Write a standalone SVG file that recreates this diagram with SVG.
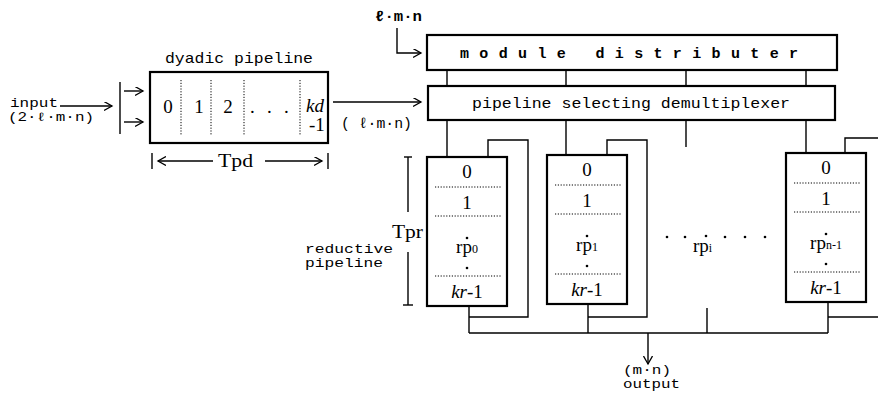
<svg xmlns="http://www.w3.org/2000/svg" width="878" height="394" viewBox="0 0 878 394">
<defs>
<style>
.ln{fill:none;stroke:#000;stroke-width:1.4}
.box{fill:#fff;stroke:#000;stroke-width:2.2}
.dot{fill:none;stroke:#000;stroke-width:1;stroke-dasharray:1.2 1.6}
.mono{font-family:"Liberation Mono","DejaVu Sans Mono",monospace;font-size:15px;fill:#000}
.sm{font-size:12px}
.ser{font-family:"Liberation Serif","DejaVu Serif",serif;font-size:19px;fill:#000}
.sub{font-size:12px}
.mid{text-anchor:middle}
</style>
<marker id="ah" markerUnits="userSpaceOnUse" markerWidth="10" markerHeight="10" refX="8" refY="4.5" orient="auto">
<path d="M0,0 L8,4.5 L0,9" fill="none" stroke="#000" stroke-width="1.3"/>
</marker>
<g id="rpbox">
<rect class="box" x="0" y="0" width="80" height="149"/>
<text class="ser mid" x="40" y="21">0</text>
<line class="dot" x1="8" y1="30" x2="75" y2="30"/>
<text class="ser mid" x="40" y="52">1</text>
<line class="dot" x1="8" y1="59" x2="75" y2="59"/>
<circle cx="40" cy="81" r="1.3"/>
<circle cx="40" cy="111" r="1.3"/>
<line class="dot" x1="8" y1="119" x2="75" y2="119"/>
<text class="ser mid" x="40" y="141"><tspan font-style="italic">kr</tspan>-1</text>
</g>
</defs>
<rect width="878" height="394" fill="#fff"/>

<g id="input-label">
<text class="mono sm" x="10" y="107" textLength="48" lengthAdjust="spacingAndGlyphs">input</text>
<text class="mono sm" x="8" y="121" textLength="86" lengthAdjust="spacingAndGlyphs">(2·ℓ·m·n)</text>
</g>

<g id="dyadic">
<text class="mono" x="165" y="63" font-size="16" textLength="148" lengthAdjust="spacingAndGlyphs">dyadic pipeline</text>
<rect class="box" x="150" y="72" width="178" height="71"/>
<line class="dot" x1="181" y1="80" x2="181" y2="135"/>
<line class="dot" x1="211" y1="80" x2="211" y2="135"/>
<line class="dot" x1="244" y1="80" x2="244" y2="135"/>
<line class="dot" x1="300" y1="80" x2="300" y2="135"/>
<text class="ser mid" x="168" y="113">0</text>
<text class="ser mid" x="199" y="113">1</text>
<text class="ser mid" x="228" y="113">2</text>
<text class="ser" x="250" y="113">.</text>
<text class="ser" x="267" y="113">.</text>
<text class="ser" x="284" y="113">.</text>
<text class="ser" x="306" y="112" font-size="17" font-style="italic">kd</text>
<text class="ser" x="309" y="131" font-size="14">-1</text>
</g>

<g id="tpd">
<line class="ln" x1="152" y1="153" x2="152" y2="169"/>
<line class="ln" x1="328" y1="153" x2="328" y2="169"/>
<line class="ln" x1="213" y1="161" x2="158" y2="161" marker-end="url(#ah)"/>
<line class="ln" x1="265" y1="161" x2="322" y2="161" marker-end="url(#ah)"/>
<text class="ser" x="218" y="167" font-size="16" textLength="35" lengthAdjust="spacingAndGlyphs">Tpd</text>
</g>

<g id="lmn-top">
<text class="mono" x="375" y="21" font-weight="bold" textLength="47" lengthAdjust="spacingAndGlyphs">ℓ·m·n</text>
</g>

<g id="lmn-mid">
<text class="mono" x="341" y="128" xml:space="preserve" textLength="71" lengthAdjust="spacingAndGlyphs">( ℓ·m·n)</text>
</g>

<g id="module-distributer">
<rect class="box" x="427" y="35" width="410" height="35"/>
<text class="mono" x="460" y="58" font-weight="bold" xml:space="preserve" textLength="338" lengthAdjust="spacing">m o d u l e   d i s t r i b u t e r</text>
</g>

<g id="demux">
<rect class="box" x="428" y="86" width="407" height="34"/>
<text class="mono" x="472" y="108" font-size="16" textLength="318" lengthAdjust="spacingAndGlyphs">pipeline selecting demultiplexer</text>
</g>

<g id="tpr">
<line class="ln" x1="404" y1="157" x2="412" y2="157"/>
<line class="ln" x1="408" y1="157" x2="408" y2="212"/>
<line class="ln" x1="408" y1="252" x2="408" y2="305"/>
<line class="ln" x1="403" y1="305" x2="413" y2="305"/>
<text class="ser" x="392" y="238" font-size="17" textLength="31" lengthAdjust="spacingAndGlyphs">Tpr</text>
<text class="mono sm" x="305" y="253" textLength="88" lengthAdjust="spacingAndGlyphs">reductive</text>
<text class="mono sm" x="305" y="267" textLength="78" lengthAdjust="spacingAndGlyphs">pipeline</text>
</g>

<g id="connectors">
<polyline class="ln" points="60,106 112,106" marker-end="url(#ah)"/>
<line class="ln" x1="120" y1="82" x2="120" y2="134" stroke-width="1.8"/>
<polyline class="ln" points="124,91 143,91" marker-end="url(#ah)"/>
<polyline class="ln" points="124,122 143,122" marker-end="url(#ah)"/>
<polyline class="ln" points="333,102 421,102" marker-end="url(#ah)"/>
<polyline class="ln" points="397,28 397,53 421,53" marker-end="url(#ah)"/>
<path class="ln" d="M447,70V86M566,70V86M686,70V86M806,70V86"/>
<path class="ln" d="M447,120V157M566,120V155M686,120V147M806,120V153"/>
<path class="ln" d="M488,157V140H528V317H469"/>
<path class="ln" d="M607,155V140H647V317H588"/>
<path class="ln" d="M845,153V138H878"/>
<path class="ln" d="M878,317H828"/>
<path class="ln" d="M469,306V333M588,304V333M828,302V333M707,308V333"/>
<path class="ln" d="M469,333H828"/>
<polyline class="ln" points="648,333 648,364" marker-end="url(#ah)"/>
</g>

<g id="rp0">
<use href="#rpbox" x="427" y="157"/>
<text class="ser mid" x="467" y="253">rp<tspan class="sub">0</tspan></text>
</g>
<g id="rp1">
<use href="#rpbox" x="547" y="155"/>
<text class="ser mid" x="587" y="251">rp<tspan class="sub">1</tspan></text>
</g>
<g id="rpi">
<circle cx="667" cy="237" r="1.3"/>
<circle cx="685" cy="237" r="1.3"/>
<circle cx="706" cy="236" r="1.3"/>
<text class="ser" x="693" y="252">rp<tspan class="sub">i</tspan></text>
<circle cx="725" cy="237" r="1.3"/>
<circle cx="745" cy="237" r="1.3"/>
<circle cx="765" cy="237" r="1.3"/>
</g>
<g id="rpn1">
<use href="#rpbox" x="786" y="153"/>
<text class="ser mid" x="826" y="249">rp<tspan class="sub">n-1</tspan></text>
</g>

<g id="output">
<text class="mono sm" x="623" y="374" textLength="48" lengthAdjust="spacingAndGlyphs">(m·n)</text>
<text class="mono sm" x="623" y="388" textLength="57" lengthAdjust="spacingAndGlyphs">output</text>
</g>
</svg>
